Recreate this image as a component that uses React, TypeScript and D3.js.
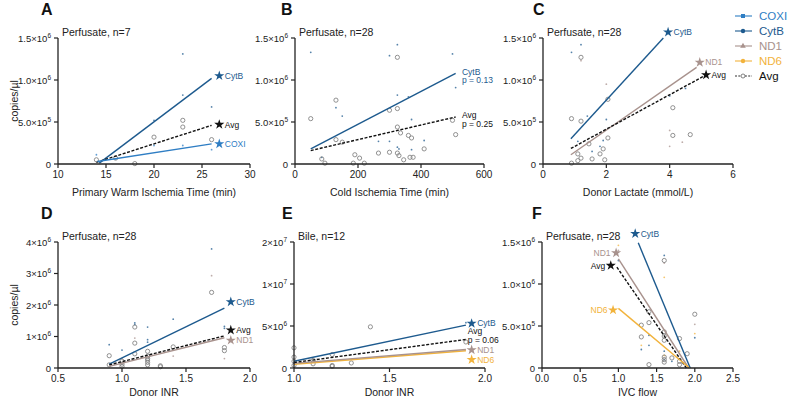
import React from 'react';
import * as d3 from 'd3';

type Pt = [number, number];
type Fit = { s: string; from: Pt; to: Pt };
type Note = { s: string; at: Pt; lines: string[]; star: boolean; side: 'left' | 'right' };

const COLORS: Record<string, string> = {
  COXI: '#2f7ec4',
  CytB: '#1d5a8e',
  ND1: '#a8928d',
  ND6: '#f2b33c',
  Avg: '#111111',
};
const legendSeries = ['COXI', 'CytB', 'ND1', 'ND6', 'Avg'];

const sciTop = ['0', '5.0×10^5', '1.0×10^6', '1.5×10^6'];
const sciTopTicks = [0, 5e5, 1e6, 1.5e6];

// A: primary warm ischemia
const aXTicks = [10, 15, 20, 25, 30];
const aAvg: Pt[] = [[14, 5e4], [16, 7e4], [18, 5e3], [20, 3.2e5], [23, 5.2e5], [23, 4.4e5], [26, 2.9e5]];
const aCOXI: Pt[] = [[14, 1.1e5], [20, 2.2e5], [23, 2.2e5], [26, 1.7e5], [16, 6e4]];
const aCytB: Pt[] = [[20, 5.2e5], [23, 1.31e6], [23, 8.2e5], [26, 6.8e5]];
const aFits: Fit[] = [
  { s: 'CytB', from: [14.3, 1e4], to: [26, 1.02e6] },
  { s: 'Avg', from: [14, 2e4], to: [26, 4.6e5] },
  { s: 'COXI', from: [14.1, 3e4], to: [26, 2.4e5] },
];
const aNotes: Note[] = [
  { s: 'CytB', at: [26.8, 1.05e6], lines: ['CytB'], star: true, side: 'right' },
  { s: 'Avg', at: [26.8, 4.7e5], lines: ['Avg'], star: true, side: 'right' },
  { s: 'COXI', at: [26.8, 2.4e5], lines: ['COXI'], star: true, side: 'right' },
];

// B: cold ischemia
const bXTicks = [0, 200, 400, 600];
const bAvg: Pt[] = [
  [50, 5.4e5], [85, 6e4], [95, 1e4], [130, 7.6e5], [130, 2.9e5], [150, 2.6e5], [185, 1e4],
  [190, 1.1e5], [205, 7e4], [220, 1e4], [265, 1.3e5], [300, 6.4e5], [300, 1.4e5], [325, 1.27e6],
  [325, 6.6e5], [325, 4.4e5], [325, 1.3e5], [330, 1e5], [335, 3.7e5], [345, 5e4], [360, 3.4e5],
  [365, 8e4], [370, 3.1e5], [375, 8e4], [410, 1.8e5], [500, 5.2e5], [510, 3.5e5],
];
const bCytB: Pt[] = [
  [50, 1.33e6], [130, 6.7e5], [150, 5.7e5], [300, 1.29e6], [325, 1.42e6], [325, 8.2e5],
  [360, 8e5], [370, 5.3e5], [265, 2.7e5], [300, 2.7e5], [325, 2e5], [370, 1.7e5], [410, 2.8e5],
  [500, 1.31e6], [510, 9.1e5], [85, 8e4], [330, 1.8e5],
];
const bFits: Fit[] = [
  { s: 'CytB', from: [50, 1.8e5], to: [510, 1.08e6] },
  { s: 'Avg', from: [50, 1.6e5], to: [510, 5.6e5] },
];
const bNotes: Note[] = [
  { s: 'CytB', at: [530, 1.1e6], lines: ['CytB', 'p = 0.13'], star: false, side: 'right' },
  { s: 'Avg', at: [530, 5.8e5], lines: ['Avg', 'p = 0.25'], star: false, side: 'right' },
];

// C: donor lactate
const cXTicks = [0, 2, 4, 6];
const cAvg: Pt[] = [
  [0.9, 5.4e5], [0.9, 1e4], [1.1, 4e4], [1.2, 7e4], [1.2, 5.1e5], [1.2, 1.27e6], [1.55, 6e4],
  [1.45, 2.4e5], [1.8, 1.2e5], [1.9, 1.8e5], [1.95, 5e4], [2.05, 3.1e5], [2.05, 7.7e5],
  [4.1, 6.7e5], [4.1, 3.4e5], [4.65, 3.5e5], [1.1, 1.2e5],
];
const cCytB: Pt[] = [
  [0.9, 1.33e6], [1.2, 1.42e6], [1.1, 2.7e5], [1.4, 5.7e5], [2.0, 5.3e5], [1.8, 2.1e5],
  [1.9, 2.8e5], [4.0, 8.1e5], [4.5, 9e5], [1.55, 1.5e5],
];
const cND1: Pt[] = [[2.0, 9.5e5], [4.0, 4e5], [4.0, 2.1e5], [4.4, 2.6e5], [1.2, 1.23e6]];
const cFits: Fit[] = [
  { s: 'CytB', from: [0.88, 3.0e5], to: [3.8, 1.5e6] },
  { s: 'ND1', from: [0.88, 1.1e5], to: [4.85, 1.15e6] },
  { s: 'Avg', from: [0.88, 1.85e5], to: [5.05, 1.04e6] },
];
const cNotes: Note[] = [
  { s: 'CytB', at: [3.95, 1.57e6], lines: ['CytB'], star: true, side: 'right' },
  { s: 'ND1', at: [4.95, 1.21e6], lines: ['ND1'], star: true, side: 'right' },
  { s: 'Avg', at: [5.15, 1.06e6], lines: ['Avg'], star: true, side: 'right' },
];

// D: donor INR (perfusate)
const dXTicks = [0.5, 1.0, 1.5, 2.0];
const dYTicks = [0, 1e6, 2e6, 3e6, 4e6];
const dYLabels = ['0', '1×10^6', '2×10^6', '3×10^6', '4×10^6'];
const dAvg: Pt[] = [
  [0.9, 3.9e5], [0.9, 1e5], [1.0, 2.2e5], [1.0, 1.2e5], [1.0, 5e4], [1.1, 1.3e6], [1.1, 7.9e5],
  [1.1, 4.5e5], [1.2, 5.3e5], [1.2, 3.8e5], [1.2, 3e5], [1.2, 2.5e5], [1.2, 1.8e5], [1.2, 1e5],
  [1.3, 7e4], [1.3, 4e4], [1.4, 6.7e5], [1.7, 2.4e6], [1.8, 6.5e5], [1.8, 5.5e5],
];
const dCytB: Pt[] = [
  [0.9, 7.4e5], [1.0, 5.7e5], [1.1, 1.43e6], [1.1, 1.38e6], [1.2, 1.3e6], [1.2, 9e5],
  [1.2, 8.2e5], [1.4, 1.55e6], [1.7, 3.78e6], [1.8, 1.32e6], [1.8, 1.26e6],
];
const dND1: Pt[] = [[1.7, 2.93e6], [1.1, 9.5e5], [1.4, 3.8e5], [1.8, 3e5], [1.0, 3e5]];
const dFits: Fit[] = [
  { s: 'CytB', from: [0.9, 1.2e5], to: [1.8, 1.9e6] },
  { s: 'ND1', from: [0.9, 5e4], to: [1.8, 9.6e5] },
  { s: 'Avg', from: [0.9, 1e5], to: [1.8, 1.02e6] },
];
const dNotes: Note[] = [
  { s: 'CytB', at: [1.85, 2.1e6], lines: ['CytB'], star: true, side: 'right' },
  { s: 'Avg', at: [1.85, 1.2e6], lines: ['Avg'], star: true, side: 'right' },
  { s: 'ND1', at: [1.85, 8.8e5], lines: ['ND1'], star: true, side: 'right' },
];

// E: donor INR (bile)
const eXTicks = [1.0, 1.5, 2.0];
const eYTicks = [0, 5e6, 1e7, 1.5e7];
const eYLabels = ['0', '5×10^6', '1×10^7', '2×10^7'];
const eAvg: Pt[] = [
  [1.0, 2.4e6], [1.0, 1.3e6], [1.0, 3e5], [1.0, 8e5], [1.1, 5e5], [1.1, 9e5], [1.2, 1.6e6],
  [1.2, 3e5], [1.2, 2e5], [1.3, 6e5], [1.4, 4.9e6], [1.9, 3.1e6],
];
const eCytB: Pt[] = [[1.9, 5.4e6], [1.0, 6e5]];
const eFits: Fit[] = [
  { s: 'CytB', from: [1.0, 8e5], to: [1.9, 5.1e6] },
  { s: 'ND6', from: [1.0, 4.5e5], to: [1.9, 2.05e6] },
  { s: 'ND1', from: [1.0, 5.5e5], to: [1.9, 2.2e6] },
  { s: 'Avg', from: [1.0, 6.5e5], to: [1.9, 3.4e6] },
];
const eNotes: Note[] = [
  { s: 'CytB', at: [1.93, 5.3e6], lines: ['CytB'], star: true, side: 'right' },
  { s: 'Avg', at: [1.91, 4.4e6], lines: ['Avg', 'p = 0.06'], star: false, side: 'right' },
  { s: 'ND1', at: [1.93, 2.15e6], lines: ['ND1'], star: true, side: 'right' },
  { s: 'ND6', at: [1.93, 1.0e6], lines: ['ND6'], star: true, side: 'right' },
];

// F: IVC flow
const fXTicks = [0, 0.5, 1.0, 1.5, 2.0, 2.5];
const fAvg: Pt[] = [
  [1.3, 5.1e5], [1.3, 3.7e5], [1.4, 4e4], [1.4, 5.4e5], [1.4, 6.7e5], [1.6, 1.28e6], [1.6, 4.3e5],
  [1.6, 3.8e5], [1.6, 3.3e5], [1.6, 1.3e5], [1.6, 1e5], [1.6, 7e4], [1.7, 1.2e5], [1.8, 3.5e5],
  [1.8, 8e4], [1.8, 4e4], [1.9, 1.7e5], [2.0, 6.4e5],
];
const fCytB: Pt[] = [
  [1.6, 1.34e6], [1.3, 2.2e5], [1.4, 3.9e5], [1.4, 2.7e5], [2.0, 3.6e5], [1.6, 2e5], [1.7, 8e4],
  [1.0, 1.28e6], [1.6, 1e5],
];
const fND1: Pt[] = [[1.0, 1.4e6], [2.0, 5.2e5], [1.6, 1.25e6]];
const fND6: Pt[] = [[1.0, 1.46e6], [1.6, 1.08e6], [2.0, 4.1e5], [1.3, 2.7e5], [1.8, 2e5], [1.6, 1.5e5]];
const fFits: Fit[] = [
  { s: 'CytB', from: [1.26, 1.49e6], to: [1.94, 0] },
  { s: 'ND1', from: [1.0, 1.3e6], to: [1.92, 0] },
  { s: 'Avg', from: [0.98, 1.2e6], to: [1.89, 0] },
  { s: 'ND6', from: [1.0, 7.1e5], to: [1.93, 0] },
];
const fNotes: Note[] = [
  { s: 'CytB', at: [1.22, 1.6e6], lines: ['CytB'], star: true, side: 'right' },
  { s: 'ND1', at: [0.97, 1.37e6], lines: ['ND1'], star: true, side: 'left' },
  { s: 'Avg', at: [0.9, 1.22e6], lines: ['Avg'], star: true, side: 'left' },
  { s: 'ND6', at: [0.93, 6.9e5], lines: ['ND6'], star: true, side: 'left' },
];

const FONT = '"Liberation Sans", Arial, sans-serif';

type PanelCfg = {
  id: string;
  letterX: number;
  title: string;
  xLabel: string;
  xLabelGap: number;
  yTitle: boolean;
  box: { l: number; r: number; t: number; b: number };
  xDomain: [number, number];
  xTicks: number[];
  xFmt: (v: number) => string;
  yDomain: [number, number];
  yTicks: number[];
  yLabels: string[];
  dots: Record<string, Pt[]>;
  fits: Fit[];
  notes: Note[];
};

const top = { t: 38, b: 164 };
const bottom = { t: 242, b: 368 };

const panels: PanelCfg[] = [
  {
    id: 'A', letterX: 41, title: 'Perfusate, n=7', xLabel: 'Primary Warm Ischemia Time (min)', xLabelGap: 32, yTitle: true,
    box: { l: 58, r: 250, ...top }, xDomain: [10, 30], xTicks: aXTicks, xFmt: d3.format('d'),
    yDomain: [0, 1.5e6], yTicks: sciTopTicks, yLabels: sciTop,
    dots: { COXI: aCOXI, CytB: aCytB, Avg: aAvg }, fits: aFits, notes: aNotes,
  },
  {
    id: 'B', letterX: 281, title: 'Perfusate, n=28', xLabel: 'Cold Ischemia Time (min)', xLabelGap: 32, yTitle: false,
    box: { l: 295, r: 484, ...top }, xDomain: [0, 600], xTicks: bXTicks, xFmt: d3.format('d'),
    yDomain: [0, 1.5e6], yTicks: sciTopTicks, yLabels: sciTop,
    dots: { CytB: bCytB, Avg: bAvg }, fits: bFits, notes: bNotes,
  },
  {
    id: 'C', letterX: 533, title: 'Perfusate, n=28', xLabel: 'Donor Lactate (mmol/L)', xLabelGap: 32, yTitle: false,
    box: { l: 543, r: 733, ...top }, xDomain: [0, 6], xTicks: cXTicks, xFmt: d3.format('d'),
    yDomain: [0, 1.5e6], yTicks: sciTopTicks, yLabels: sciTop,
    dots: { CytB: cCytB, ND1: cND1, Avg: cAvg }, fits: cFits, notes: cNotes,
  },
  {
    id: 'D', letterX: 41, title: 'Perfusate, n=28', xLabel: 'Donor INR', xLabelGap: 28, yTitle: true,
    box: { l: 58, r: 250, ...bottom }, xDomain: [0.5, 2.0], xTicks: dXTicks, xFmt: d3.format('.1f'),
    yDomain: [0, 4e6], yTicks: dYTicks, yLabels: dYLabels,
    dots: { CytB: dCytB, ND1: dND1, Avg: dAvg }, fits: dFits, notes: dNotes,
  },
  {
    id: 'E', letterX: 282, title: 'Bile, n=12', xLabel: 'Donor INR', xLabelGap: 28, yTitle: false,
    box: { l: 294, r: 485, ...bottom }, xDomain: [1.0, 2.0], xTicks: eXTicks, xFmt: d3.format('.1f'),
    yDomain: [0, 1.5e7], yTicks: eYTicks, yLabels: eYLabels,
    dots: { CytB: eCytB, Avg: eAvg }, fits: eFits, notes: eNotes,
  },
  {
    id: 'F', letterX: 532, title: 'Perfusate, n=28', xLabel: 'IVC flow', xLabelGap: 28, yTitle: false,
    box: { l: 542, r: 733, ...bottom }, xDomain: [0, 2.5], xTicks: fXTicks, xFmt: d3.format('.1f'),
    yDomain: [0, 1.5e6], yTicks: sciTopTicks, yLabels: sciTop,
    dots: { CytB: fCytB, ND1: fND1, ND6: fND6, Avg: fAvg }, fits: fFits, notes: fNotes,
  },
];

const starPath = d3.symbol(d3.symbolStar, 32)() as string;

const SciLabel = ({ x, y, label }: { x: number; y: number; label: string }) => {
  const [base, exp] = label.split('^');
  return (
    <text x={x} y={y} textAnchor="end" fontSize={9.5} fill="#222">
      {base}
      {exp && (
        <tspan fontSize={6.5} dy={-4}>
          {exp}
        </tspan>
      )}
    </text>
  );
};

const Panel = ({ p }: { p: PanelCfg }) => {
  const { l, r, t, b } = p.box;
  const x = d3.scaleLinear().domain(p.xDomain).range([l, r]);
  const y = d3.scaleLinear().domain(p.yDomain).range([b, t]);
  const line = d3
    .line<Pt>()
    .x((d) => x(d[0]))
    .y((d) => y(d[1]));

  return (
    <g>
      <text x={p.letterX} y={p.box.t - 23} fontSize={16} fontWeight="bold" fill="#111">
        {p.id}
      </text>
      <text x={l + 4} y={t - 2} fontSize={10.5} fill="#222">
        {p.title}
      </text>

      {/* scatter */}
      {Object.entries(p.dots)
        .filter(([s]) => s !== 'Avg')
        .map(([s, pts]) =>
          pts.map((d, i) => (
            <circle key={s + i} cx={x(d[0])} cy={y(d[1])} r={0.9} fill={COLORS[s]} opacity={0.75} />
          ))
        )}
      {(p.dots.Avg || []).map((d, i) => (
        <circle key={'avg' + i} cx={x(d[0])} cy={y(d[1])} r={2.1} fill="none" stroke="#858585" strokeWidth={0.9} />
      ))}

      {/* regression lines */}
      {p.fits.map((f, i) => (
        <path
          key={'fit' + i}
          d={line([f.from, f.to]) as string}
          fill="none"
          stroke={COLORS[f.s]}
          strokeWidth={1.4}
          strokeDasharray={f.s === 'Avg' ? '3,1.6' : undefined}
        />
      ))}

      {/* annotations */}
      {p.notes.map((n, i) => {
        const nx = x(n.at[0]);
        const ny = y(n.at[1]);
        const c = COLORS[n.s];
        if (!n.star) {
          return (
            <text key={'n' + i} x={nx} y={ny + 3} fontSize={8.5} fill={c}>
              {n.lines.map((ln, j) => (
                <tspan key={j} x={nx} dy={j === 0 ? 0 : 8.5}>
                  {ln}
                </tspan>
              ))}
            </text>
          );
        }
        return (
          <g key={'n' + i}>
            <path d={starPath} transform={`translate(${nx},${ny})`} fill={c} />
            <text
              x={n.side === 'right' ? nx + 5.5 : nx - 5.5}
              y={ny + 3}
              fontSize={8.5}
              fill={c}
              textAnchor={n.side === 'right' ? 'start' : 'end'}
            >
              {n.lines[0]}
            </text>
          </g>
        );
      })}

      {/* axes */}
      <line x1={l} x2={l} y1={t} y2={b} stroke="#222" strokeWidth={1.3} />
      <line x1={l} x2={r} y1={b} y2={b} stroke="#222" strokeWidth={1.3} />
      {p.yTicks.map((v, i) => (
        <g key={'yt' + i}>
          <line x1={l - 4} x2={l} y1={y(v)} y2={y(v)} stroke="#222" strokeWidth={1.2} />
          <SciLabel x={l - 7} y={y(v) + 3.5} label={p.yLabels[i]} />
        </g>
      ))}
      {p.xTicks.map((v, i) => (
        <g key={'xt' + i}>
          <line x1={x(v)} x2={x(v)} y1={b} y2={b + 4} stroke="#222" strokeWidth={1.2} />
          <text x={x(v)} y={b + 14} textAnchor="middle" fontSize={10} fill="#222">
            {p.xFmt(v)}
          </text>
        </g>
      ))}
      <text x={(l + r) / 2} y={b + p.xLabelGap} textAnchor="middle" fontSize={10.5} fill="#222">
        {p.xLabel}
      </text>
      {p.yTitle && (
        <text
          transform={`translate(${l - 40},${(t + b) / 2}) rotate(-90)`}
          textAnchor="middle"
          fontSize={10.5}
          fill="#222"
        >
          copies/µl
        </text>
      )}
    </g>
  );
};

const Legend = () => {
  const ly = d3.scalePoint<string>().domain(legendSeries).range([16, 76]);
  return (
    <g>
      {legendSeries.map((s) => {
        const yy = ly(s) as number;
        const c = COLORS[s];
        let marker: React.ReactNode;
        if (s === 'COXI') marker = <rect x={741} y={yy - 2} width={4} height={4} fill={c} />;
        else if (s === 'ND1')
          marker = <path d={d3.symbol(d3.symbolTriangle, 14)() as string} transform={`translate(743,${yy})`} fill={c} />;
        else if (s === 'Avg') marker = <circle cx={743} cy={yy} r={2} fill="#fff" stroke="#666" strokeWidth={0.8} />;
        else marker = <circle cx={743} cy={yy} r={2.2} fill={c} />;
        return (
          <g key={s}>
            <line
              x1={735}
              x2={752}
              y1={yy}
              y2={yy}
              stroke={s === 'Avg' ? '#333' : c}
              strokeWidth={1.1}
              strokeDasharray={s === 'Avg' ? '2,1.3' : undefined}
            />
            {marker}
            <text x={759} y={yy + 4} fontSize={11.5} fill={s === 'Avg' ? '#111' : c}>
              {s}
            </text>
          </g>
        );
      })}
    </g>
  );
};

export default function App() {
  return (
    <svg
      width={789}
      height={400}
      style={{ position: 'absolute', left: 0, top: 0, background: '#fff' }}
      fontFamily={FONT}
    >
      {panels.map((p) => (
        <Panel key={p.id} p={p} />
      ))}
      <Legend />
    </svg>
  );
}
